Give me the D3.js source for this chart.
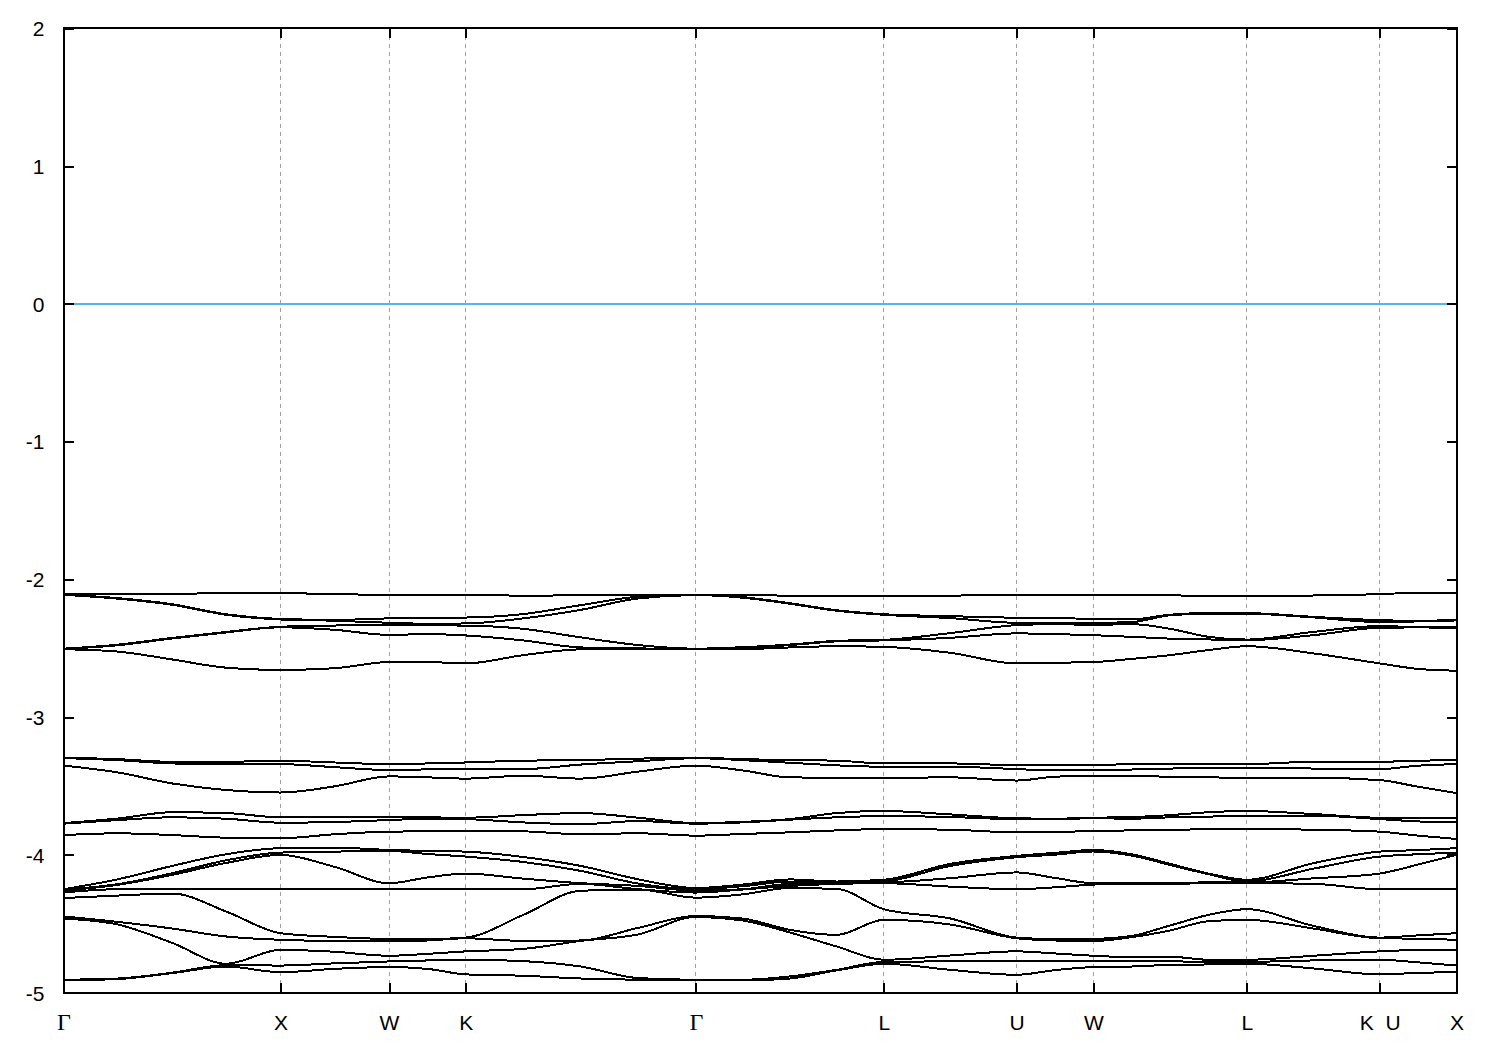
<!DOCTYPE html>
<html>
<head>
<meta charset="utf-8">
<script src="https://cdn.jsdelivr.net/npm/d3@7"></script>
<style>
  body { margin: 0; background: #ffffff; }
  svg { display: block; }
</style>
</head>
<body>
<svg id="chart" width="1500" height="1050"></svg>
<script>
// ---------- data ----------
// high-symmetry points along the k-path (path length units)
const kTicks  = [0, 1.0, 1.5, 1.8536, 2.9142, 3.7802, 4.3926, 4.7462, 5.4533, 6.0657, 6.4193];
const kLabels = ["Γ", "X", "W", "K", "Γ", "L", "U", "W", "L", "K  U", "X"];
// k sample points at which band energies were read
const kGrid = [0, 0.25, 0.5, 0.75, 1.0, 1.25, 1.5, 1.6768, 1.8536, 2.1188, 2.3839, 2.6491, 2.9142,
               3.1307, 3.3472, 3.5637, 3.7802, 4.0864, 4.3926, 4.5694, 4.7462, 4.9230, 5.0998,
               5.2765, 5.4533, 5.7595, 6.0657, 6.2425, 6.4193];
const yTicks = [-5, -4, -3, -2, -1, 0, 1, 2];
const fermiEnergy = 0;

// energies (eV) per k sample, sorted high -> low; upper group (6 bands)
const eUpper = [
  [-2.107,-2.110,-2.112,-2.503,-2.505,-2.507],
  [-2.107,-2.136,-2.140,-2.474,-2.478,-2.524],
  [-2.107,-2.180,-2.184,-2.425,-2.429,-2.581],
  [-2.097,-2.253,-2.257,-2.381,-2.385,-2.641],
  [-2.099,-2.287,-2.291,-2.344,-2.348,-2.657],
  [-2.107,-2.294,-2.300,-2.335,-2.366,-2.645],
  [-2.112,-2.283,-2.315,-2.329,-2.403,-2.600],
  [-2.112,-2.278,-2.322,-2.334,-2.397,-2.600],
  [-2.112,-2.277,-2.320,-2.335,-2.407,-2.610],
  [-2.118,-2.252,-2.283,-2.359,-2.443,-2.550],
  [-2.116,-2.187,-2.221,-2.421,-2.494,-2.508],
  [-2.112,-2.126,-2.138,-2.477,-2.501,-2.506],
  [-2.110,-2.112,-2.114,-2.503,-2.505,-2.507],
  [-2.112,-2.129,-2.133,-2.492,-2.496,-2.506],
  [-2.118,-2.173,-2.177,-2.473,-2.477,-2.494],
  [-2.118,-2.224,-2.228,-2.446,-2.450,-2.485],
  [-2.122,-2.253,-2.257,-2.439,-2.443,-2.490],
  [-2.118,-2.267,-2.281,-2.390,-2.424,-2.533],
  [-2.112,-2.279,-2.315,-2.332,-2.392,-2.610],
  [-2.112,-2.283,-2.315,-2.325,-2.397,-2.605],
  [-2.112,-2.285,-2.315,-2.330,-2.405,-2.600],
  [-2.112,-2.290,-2.310,-2.325,-2.417,-2.577],
  [-2.115,-2.256,-2.260,-2.359,-2.430,-2.550],
  [-2.122,-2.245,-2.249,-2.417,-2.436,-2.513],
  [-2.122,-2.245,-2.249,-2.437,-2.441,-2.485],
  [-2.117,-2.272,-2.276,-2.381,-2.405,-2.537],
  [-2.107,-2.296,-2.310,-2.339,-2.351,-2.610],
  [-2.097,-2.301,-2.305,-2.346,-2.349,-2.650],
  [-2.097,-2.294,-2.298,-2.347,-2.351,-2.663]
];

// middle group (6 bands)
const eMiddle = [
  [-3.294,-3.297,-3.352,-3.769,-3.773,-3.856],
  [-3.305,-3.312,-3.401,-3.736,-3.747,-3.843],
  [-3.324,-3.336,-3.481,-3.690,-3.727,-3.856],
  [-3.324,-3.341,-3.529,-3.696,-3.737,-3.875],
  [-3.316,-3.341,-3.547,-3.727,-3.766,-3.879],
  [-3.329,-3.363,-3.502,-3.722,-3.761,-3.850],
  [-3.341,-3.384,-3.430,-3.722,-3.747,-3.831],
  [-3.336,-3.379,-3.437,-3.727,-3.737,-3.829],
  [-3.329,-3.373,-3.446,-3.730,-3.740,-3.826],
  [-3.316,-3.377,-3.425,-3.711,-3.764,-3.829],
  [-3.312,-3.344,-3.446,-3.696,-3.777,-3.850],
  [-3.301,-3.320,-3.395,-3.730,-3.754,-3.843],
  [-3.295,-3.298,-3.352,-3.769,-3.773,-3.860],
  [-3.305,-3.312,-3.387,-3.760,-3.764,-3.848],
  [-3.312,-3.331,-3.437,-3.740,-3.744,-3.836],
  [-3.316,-3.350,-3.440,-3.696,-3.727,-3.822],
  [-3.336,-3.360,-3.440,-3.681,-3.718,-3.812],
  [-3.336,-3.360,-3.437,-3.706,-3.725,-3.817],
  [-3.348,-3.377,-3.460,-3.734,-3.740,-3.836],
  [-3.348,-3.387,-3.432,-3.737,-3.740,-3.834],
  [-3.348,-3.387,-3.425,-3.730,-3.734,-3.826],
  [-3.341,-3.380,-3.428,-3.725,-3.737,-3.822],
  [-3.341,-3.373,-3.432,-3.711,-3.727,-3.817],
  [-3.341,-3.370,-3.437,-3.690,-3.722,-3.814],
  [-3.341,-3.367,-3.440,-3.681,-3.715,-3.812],
  [-3.324,-3.373,-3.440,-3.703,-3.715,-3.817],
  [-3.324,-3.377,-3.457,-3.730,-3.740,-3.831],
  [-3.316,-3.352,-3.505,-3.730,-3.757,-3.860],
  [-3.312,-3.341,-3.551,-3.730,-3.764,-3.884]
];

// lower group (9 bands)
const eLower = [
  [-4.249,-4.252,-4.259,-4.273,-4.313,-4.446,-4.462,-4.906,-4.910],
  [-4.177,-4.212,-4.217,-4.249,-4.295,-4.486,-4.505,-4.897,-4.901],
  [-4.080,-4.133,-4.145,-4.249,-4.280,-4.534,-4.638,-4.855,-4.858],
  [-3.995,-4.039,-4.058,-4.249,-4.411,-4.592,-4.790,-4.800,-4.810],
  [-3.951,-3.983,-4.000,-4.249,-4.568,-4.616,-4.689,-4.803,-4.851],
  [-3.947,-3.976,-4.087,-4.249,-4.595,-4.624,-4.703,-4.787,-4.827],
  [-3.964,-3.971,-4.205,-4.249,-4.610,-4.625,-4.732,-4.773,-4.814],
  [-3.971,-3.993,-4.164,-4.249,-4.611,-4.621,-4.718,-4.766,-4.827],
  [-3.976,-4.012,-4.135,-4.249,-4.600,-4.605,-4.700,-4.761,-4.867],
  [-4.015,-4.051,-4.172,-4.249,-4.435,-4.624,-4.682,-4.771,-4.877],
  [-4.080,-4.116,-4.205,-4.210,-4.260,-4.621,-4.624,-4.810,-4.897],
  [-4.177,-4.208,-4.225,-4.249,-4.251,-4.529,-4.577,-4.894,-4.906],
  [-4.240,-4.249,-4.259,-4.273,-4.310,-4.443,-4.450,-4.906,-4.910],
  [-4.215,-4.227,-4.249,-4.251,-4.286,-4.462,-4.476,-4.906,-4.910],
  [-4.178,-4.193,-4.210,-4.225,-4.240,-4.544,-4.563,-4.882,-4.897],
  [-4.193,-4.203,-4.205,-4.210,-4.247,-4.580,-4.665,-4.834,-4.838],
  [-4.180,-4.193,-4.200,-4.205,-4.394,-4.471,-4.761,-4.776,-4.790],
  [-4.065,-4.080,-4.169,-4.230,-4.461,-4.505,-4.730,-4.772,-4.834],
  [-4.007,-4.017,-4.127,-4.249,-4.600,-4.605,-4.700,-4.772,-4.870],
  [-3.985,-3.998,-4.167,-4.235,-4.611,-4.621,-4.715,-4.768,-4.836],
  [-3.964,-3.975,-4.205,-4.215,-4.610,-4.625,-4.732,-4.773,-4.814],
  [-3.995,-4.005,-4.205,-4.208,-4.588,-4.597,-4.742,-4.768,-4.810],
  [-4.065,-4.073,-4.205,-4.210,-4.512,-4.548,-4.739,-4.772,-4.798],
  [-4.135,-4.140,-4.199,-4.205,-4.435,-4.481,-4.761,-4.776,-4.795],
  [-4.180,-4.193,-4.200,-4.205,-4.394,-4.471,-4.761,-4.776,-4.790],
  [-4.060,-4.100,-4.170,-4.210,-4.515,-4.534,-4.732,-4.766,-4.824],
  [-3.976,-4.012,-4.135,-4.249,-4.600,-4.605,-4.700,-4.761,-4.867],
  [-3.965,-3.995,-4.070,-4.249,-4.584,-4.608,-4.690,-4.780,-4.856],
  [-3.951,-3.983,-4.000,-4.249,-4.568,-4.616,-4.689,-4.803,-4.851]
];

// ---------- drawing ----------
(function () {
  const svg = d3.select("#chart");
  const pLeft = 63.5, pRight = 1456.5, pTop = 28.3, pBottom = 992.7;

  const x = d3.scaleLinear().domain([kTicks[0], kTicks[kTicks.length - 1]]).range([pLeft, pRight]);
  const y = d3.scaleLinear().domain([-5, 2]).range([pBottom, pTop]);

  svg.append("rect").attr("width", 1500).attr("height", 1050).attr("fill", "#ffffff");

  svg.append("defs").append("clipPath").attr("id", "plotclip")
    .append("rect").attr("x", pLeft).attr("y", pTop)
    .attr("width", pRight - pLeft).attr("height", pBottom - pTop);

  // dashed vertical lines at high-symmetry points
  svg.append("g").selectAll("line")
    .data(kTicks.slice(1, -1))
    .join("line")
    .attr("x1", d => x(d)).attr("x2", d => x(d))
    .attr("y1", pTop).attr("y2", pBottom)
    .attr("stroke", "#a0a0a0")
    .attr("stroke-width", 1)
    .attr("stroke-dasharray", "4,4")
    .attr("shape-rendering", "crispEdges");

  // Fermi level
  svg.append("line")
    .attr("x1", pLeft).attr("x2", pRight)
    .attr("y1", y(fermiEnergy)).attr("y2", y(fermiEnergy))
    .attr("stroke", "#56b4e9")
    .attr("stroke-width", 2)
    .attr("shape-rendering", "crispEdges");

  // bands
  const lineGen = d3.line()
    .x(d => x(d[0]))
    .y(d => y(d[1]))
    .curve(d3.curveMonotoneX);

  function bandsFrom(rows) {
    const n = rows[0].length;
    return d3.range(n).map(j => kGrid.map((k, i) => [k, rows[i][j]]));
  }
  const allBands = [...bandsFrom(eUpper), ...bandsFrom(eMiddle), ...bandsFrom(eLower)];

  svg.append("g").attr("clip-path", "url(#plotclip)")
    .selectAll("path")
    .data(allBands)
    .join("path")
    .attr("d", lineGen)
    .attr("fill", "none")
    .attr("stroke", "#000000")
    .attr("stroke-width", 2)
    .attr("stroke-linejoin", "round")
    .attr("shape-rendering", "crispEdges");

  // axes (ticks pointing inward, mirrored)
  const yAxisL = d3.axisLeft(y).tickValues(yTicks).tickSize(-10).tickSizeOuter(0)
    .tickPadding(19).tickFormat(d => String(d));
  const yAxisR = d3.axisRight(y).tickValues(yTicks).tickSize(-10).tickSizeOuter(0).tickFormat("");
  const xAxisB = d3.axisBottom(x).tickValues(kTicks).tickSize(-10).tickSizeOuter(0)
    .tickFormat((d, i) => kLabels[i]);
  const xAxisT = d3.axisTop(x).tickValues(kTicks).tickSize(-10).tickSizeOuter(0).tickFormat("");

  function styleAxis(g) {
    g.select(".domain").remove();
    g.selectAll(".tick line").attr("stroke", "#000").attr("stroke-width", 2)
      .attr("shape-rendering", "crispEdges");
  }

  svg.append("g").attr("transform", `translate(${pLeft},0)`).call(yAxisL).call(styleAxis)
    .selectAll("text")
    .attr("font-family", "'Liberation Sans', Arial, sans-serif")
    .attr("font-size", 21)
    .attr("fill", "#000")
    .attr("dy", "0.35em");

  svg.append("g").attr("transform", `translate(${pRight},0)`).call(yAxisR).call(styleAxis);

  const xb = svg.append("g").attr("transform", `translate(0,${pBottom})`).call(xAxisB).call(styleAxis);
  xb.selectAll("text")
    .attr("y", 37.3)
    .attr("dy", 0)
    .attr("fill", "#000")
    .attr("font-family", (d, i) => kLabels[i] === "Γ" ? "'Liberation Serif', 'DejaVu Serif', serif" : "'Liberation Sans', Arial, sans-serif")
    .attr("font-size", (d, i) => kLabels[i] === "Γ" ? 24 : 21)
    .style("white-space", "pre");

  svg.append("g").attr("transform", `translate(0,${pTop})`).call(xAxisT).call(styleAxis);

  // frame
  svg.append("rect")
    .attr("x", pLeft).attr("y", pTop)
    .attr("width", pRight - pLeft).attr("height", pBottom - pTop)
    .attr("fill", "none")
    .attr("stroke", "#000")
    .attr("stroke-width", 2)
    .attr("shape-rendering", "crispEdges");
})();
</script>
</body>
</html>
